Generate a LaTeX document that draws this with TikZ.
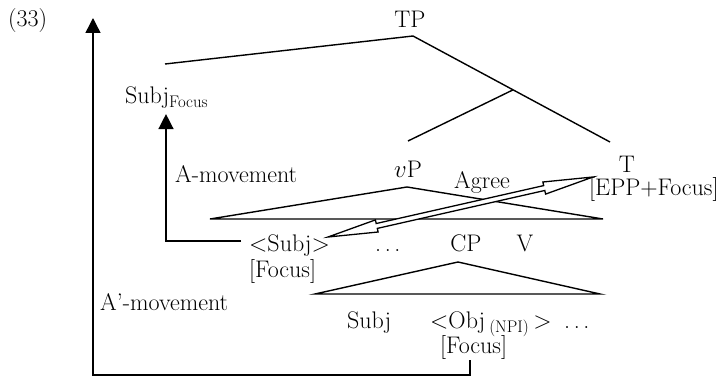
\documentclass[tikz,border=0pt]{standalone}
\usepackage{tikz}
\usetikzlibrary{arrows.meta, calc, positioning}

\newcommand{\wdots}{.\kern3.6pt.\kern3.6pt.}

\tikzset{
  lbl/.style={inner sep=0pt, anchor=base west, font=\fontsize{24}{28}\selectfont},
  lblc/.style={lbl, anchor=base},
  branch/.style={line width=1.4pt},
  tri/.style={line width=1.4pt},
  move/.style={-{Triangle[length=15pt,width=15pt]}, line width=1.4pt},
  agree/.style={line width=1.3pt, fill=white}
}

\begin{document}
\begin{tikzpicture}[x=1pt, y=-1pt]
  \useasboundingbox (0,0) rectangle (718,390);

  % labels
  \node[lbl] (num) at (8,27) {(33)};
  \node[lblc] (tp) at (410,28) {TP};
  \node[lbl] (subjfoc) at (125,104) {Subj\textsubscript{Focus}};
  \node[lbl] (amov) at (175,183) {A-movement};
  \node[lblc] (vp) at (408,178) {$v$P};
  \node[lblc] (t) at (627,173) {T};
  \node[lbl] (epp) at (589,196) {[EPP+Focus]};
  \node[lbl] (agr) at (454,189) {Agree};
  \node[lbl] (subjlow) at (249,252) {\textless Subj\textgreater};
  \node[lbl] (foc) at (249,278) {[Focus]};
  \node[lbl] (dots) at (375,252) {\wdots};
  \node[lblc] (cp) at (466,252) {CP};
  \node[lblc] (v) at (525,252) {V};
  \node[lbl] (abmov) at (100,310) {A'-movement};
  \node[lbl] (subj) at (347,328) {Subj};
  \node[lbl] (obj) at (430,328) {\textless Obj\,\textsubscript{(NPI)}\,\textgreater};
  \node[lbl] (dotslow) at (564,328) {\wdots};
  \node[lbl] (foclow) at (440,353) {[Focus]};

  % tree
  \coordinate (tpv) at (413,36);
  \coordinate (spec) at (165,64);
  \coordinate (tend) at (610,142);
  \coordinate (vpend) at (408,141);
  \draw[branch] (spec) -- (tpv) -- (tend);
  \draw[branch] ($(tpv)!0.508!(tend)$) -- (vpend);
  \draw[tri] (407,187) -- (603,219) -- (210,219) -- cycle;
  \draw[tri] (458,262) -- (600,294) -- (315,294) -- cycle;

  % movement
  \coordinate (atop) at (93,18);
  \draw[move] ([xshift=-8pt,yshift=5pt]subjlow.west) -| ([yshift=-5pt]subjfoc.south -| 166,0);
  \draw[move] ([yshift=-1pt]foclow.south -| 470,0) -- ++(0,15) -| (atop);

  % agree
  \coordinate (agL) at (328,237);
  \coordinate (agR) at (593,177);
  \draw[agree] (agL)
    -- ($(agL)!50pt!(agR)!6.2pt!90:(agR)$)
    -- ($(agL)!50pt!(agR)!2.5pt!90:(agR)$)
    -- ($(agR)!50pt!(agL)!2.5pt!-90:(agL)$)
    -- ($(agR)!50pt!(agL)!6.2pt!-90:(agL)$)
    -- (agR)
    -- ($(agR)!50pt!(agL)!6.2pt!90:(agL)$)
    -- ($(agR)!50pt!(agL)!2.5pt!90:(agL)$)
    -- ($(agL)!50pt!(agR)!2.5pt!-90:(agR)$)
    -- ($(agL)!50pt!(agR)!6.2pt!-90:(agR)$)
    -- cycle;
\end{tikzpicture}
\end{document}
